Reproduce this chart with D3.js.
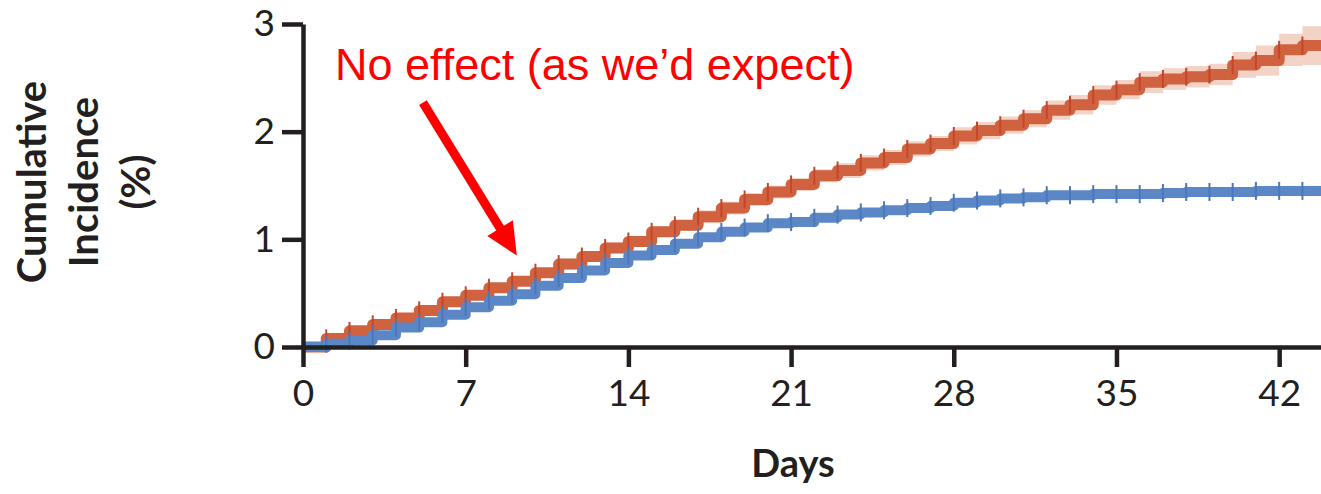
<!DOCTYPE html>
<html>
<head>
<meta charset="utf-8">
<script src="https://cdn.jsdelivr.net/npm/d3@7"></script>
<style>
  body { margin: 0; background: #fff; }
  svg { display: block; }
  .axis path, .axis line { stroke: #231f20; stroke-width: 4.5; }
  .axis text { font-family: Lato, "Open Sans", sans-serif; font-weight: 400; font-size: 37px; fill: #231f20; }
</style>
</head>
<body>
<div id="chart"></div>
<script>
// days 0..43, cumulative incidence (%)
var days = d3.range(0, 44);
var redValues = [0, 0.08, 0.15, 0.21, 0.27, 0.34, 0.42, 0.48, 0.55, 0.61, 0.69, 0.77, 0.84, 0.92, 0.98,
  1.07, 1.13, 1.21, 1.29, 1.37, 1.44, 1.51, 1.59, 1.64, 1.71, 1.76, 1.84, 1.89, 1.96,
  2.01, 2.06, 2.12, 2.20, 2.25, 2.34, 2.39, 2.46, 2.49, 2.51, 2.53, 2.62, 2.66, 2.76, 2.80];
var redCI = [0, 0.02, 0.02, 0.03, 0.03, 0.03, 0.03, 0.04, 0.04, 0.04, 0.04, 0.05, 0.05, 0.05, 0.05,
  0.05, 0.05, 0.06, 0.06, 0.06, 0.06, 0.06, 0.06, 0.07, 0.07, 0.07, 0.07, 0.07, 0.08,
  0.08, 0.08, 0.08, 0.09, 0.09, 0.09, 0.09, 0.10, 0.10, 0.10, 0.10, 0.12, 0.14, 0.15, 0.18];
var blueValues = [0, 0.03, 0.06, 0.11, 0.18, 0.23, 0.30, 0.37, 0.43, 0.49, 0.57, 0.64, 0.71, 0.78, 0.85,
  0.90, 0.96, 1.02, 1.07, 1.11, 1.15, 1.16, 1.20, 1.23, 1.25, 1.27, 1.29, 1.31, 1.34,
  1.36, 1.38, 1.39, 1.41, 1.41, 1.42, 1.42, 1.42, 1.43, 1.44, 1.44, 1.44, 1.45, 1.45, 1.45];
var blueCI = [0, 0.01, 0.01, 0.01, 0.01, 0.02, 0.02, 0.02, 0.02, 0.02, 0.02, 0.02, 0.02, 0.02, 0.02,
  0.02, 0.02, 0.02, 0.02, 0.03, 0.03, 0.03, 0.03, 0.03, 0.03, 0.03, 0.03, 0.03, 0.03,
  0.03, 0.03, 0.03, 0.03, 0.03, 0.03, 0.03, 0.03, 0.04, 0.04, 0.04, 0.04, 0.04, 0.04, 0.04];
var xTicks = [0, 7, 14, 21, 28, 35, 42];
var yTicks = [0, 1, 2, 3];
var yTitle = ["Cumulative", "Incidence", "(%)"];
var xTitle = "Days";
var note = "No effect (as we\u2019d expect)";
var arrowFrom = [5.16, 2.27], arrowTo = [9.2, 0.85];

var width = 1321, height = 494;
var margin = {top: 24, left: 303, bottom: 147};
var xMax = 43.8;

var x = d3.scaleLinear().domain([0, xMax]).range([margin.left, width]);
var y = d3.scaleLinear().domain([0, 3]).range([height - margin.bottom, margin.top]);

var svg = d3.select("#chart").append("svg")
    .attr("width", width)
    .attr("height", height);

function series(vals, ci) {
    var pts = days.map(function(d, i) { return {day: d, v: vals[i], ci: ci[i]}; });
    var last = pts[pts.length - 1];
    pts.push({day: xMax, v: last.v, ci: last.ci});
    return pts;
}
var red = series(redValues, redCI);
var blue = series(blueValues, blueCI);

var area = d3.area()
    .curve(d3.curveStepAfter)
    .x(d => x(d.day))
    .y0(d => y(d.v - d.ci))
    .y1(d => y(d.v + d.ci));
var line = d3.line()
    .curve(d3.curveStepAfter)
    .x(d => x(d.day))
    .y(d => y(d.v));

// bands
svg.append("path").datum(red).attr("d", area).attr("fill", "#f3d3c5");
svg.append("path").datum(blue).attr("d", area).attr("fill", "#b9cbe8");

// red curve
svg.append("path").datum(red).attr("d", line)
    .attr("fill", "none").attr("stroke", "#d0623f").attr("stroke-width", 11)
    .attr("stroke-linejoin", "round");
svg.append("g").selectAll("line")
    .data(red.slice(1, -1))
    .enter().append("line")
    .attr("x1", d => x(d.day)).attr("x2", d => x(d.day))
    .attr("y1", d => y(d.v) - 9).attr("y2", d => y(d.v) + 9)
    .attr("stroke", "#c4462b").attr("stroke-width", 2);

// blue curve
svg.append("path").datum(blue).attr("d", line)
    .attr("fill", "none").attr("stroke", "#5b87c6").attr("stroke-width", 10)
    .attr("stroke-linejoin", "round");
svg.append("g").selectAll("line")
    .data(blue.slice(1, -1))
    .enter().append("line")
    .attr("x1", d => x(d.day)).attr("x2", d => x(d.day))
    .attr("y1", d => y(d.v) - 9).attr("y2", d => y(d.v) + 9)
    .attr("stroke", "#4c78b9").attr("stroke-width", 2);

// axes
svg.append("g")
    .attr("class", "axis")
    .attr("transform", "translate(0," + y(0) + ")")
    .call(d3.axisBottom(x).tickValues(xTicks).tickSize(20).tickSizeOuter(0).tickPadding(13));
svg.append("g")
    .attr("class", "axis")
    .attr("transform", "translate(" + x(0) + ",0)")
    .call(d3.axisLeft(y).tickValues(yTicks).tickFormat(d3.format("d"))
        .tickSize(21).tickSizeOuter(0).tickPadding(7));

// titles
svg.append("text")
    .attr("x", 793).attr("y", 477)
    .attr("text-anchor", "middle")
    .style("font-family", "Lato, sans-serif").style("font-weight", "bold")
    .style("font-size", "38px").style("fill", "#231f20")
    .text(xTitle);

svg.append("g").selectAll("text")
    .data(yTitle)
    .enter().append("text")
    .attr("transform", (d, i) => "translate(" + (46 + i * 52) + ",182) rotate(-90)")
    .attr("text-anchor", "middle")
    .style("font-family", "Lato, sans-serif").style("font-weight", "bold")
    .style("font-size", "40px").style("fill", "#231f20")
    .text(d => d);

// annotation
svg.append("text")
    .attr("x", 335).attr("y", 80)
    .style("font-family", "'Liberation Sans', Arial, sans-serif")
    .style("font-size", "45px").style("fill", "#ff0000")
    .text(note);

var ax0 = x(arrowFrom[0]), ay0 = y(arrowFrom[1]);
var ax1 = x(arrowTo[0]), ay1 = y(arrowTo[1]);
var len = Math.hypot(ax1 - ax0, ay1 - ay0);
var ux = (ax1 - ax0) / len, uy = (ay1 - ay0) / len;
var headLen = 32, headW = 15;
var bx = ax1 - ux * headLen, by = ay1 - uy * headLen;
svg.append("line")
    .attr("x1", ax0).attr("y1", ay0).attr("x2", bx + ux * 2).attr("y2", by + uy * 2)
    .attr("stroke", "#ff0000").attr("stroke-width", 9);
svg.append("polygon")
    .attr("points", [[ax1, ay1], [bx - uy * headW, by + ux * headW], [bx + uy * headW, by - ux * headW]]
        .map(p => p.join(",")).join(" "))
    .attr("fill", "#ff0000");
</script>
</body>
</html>
